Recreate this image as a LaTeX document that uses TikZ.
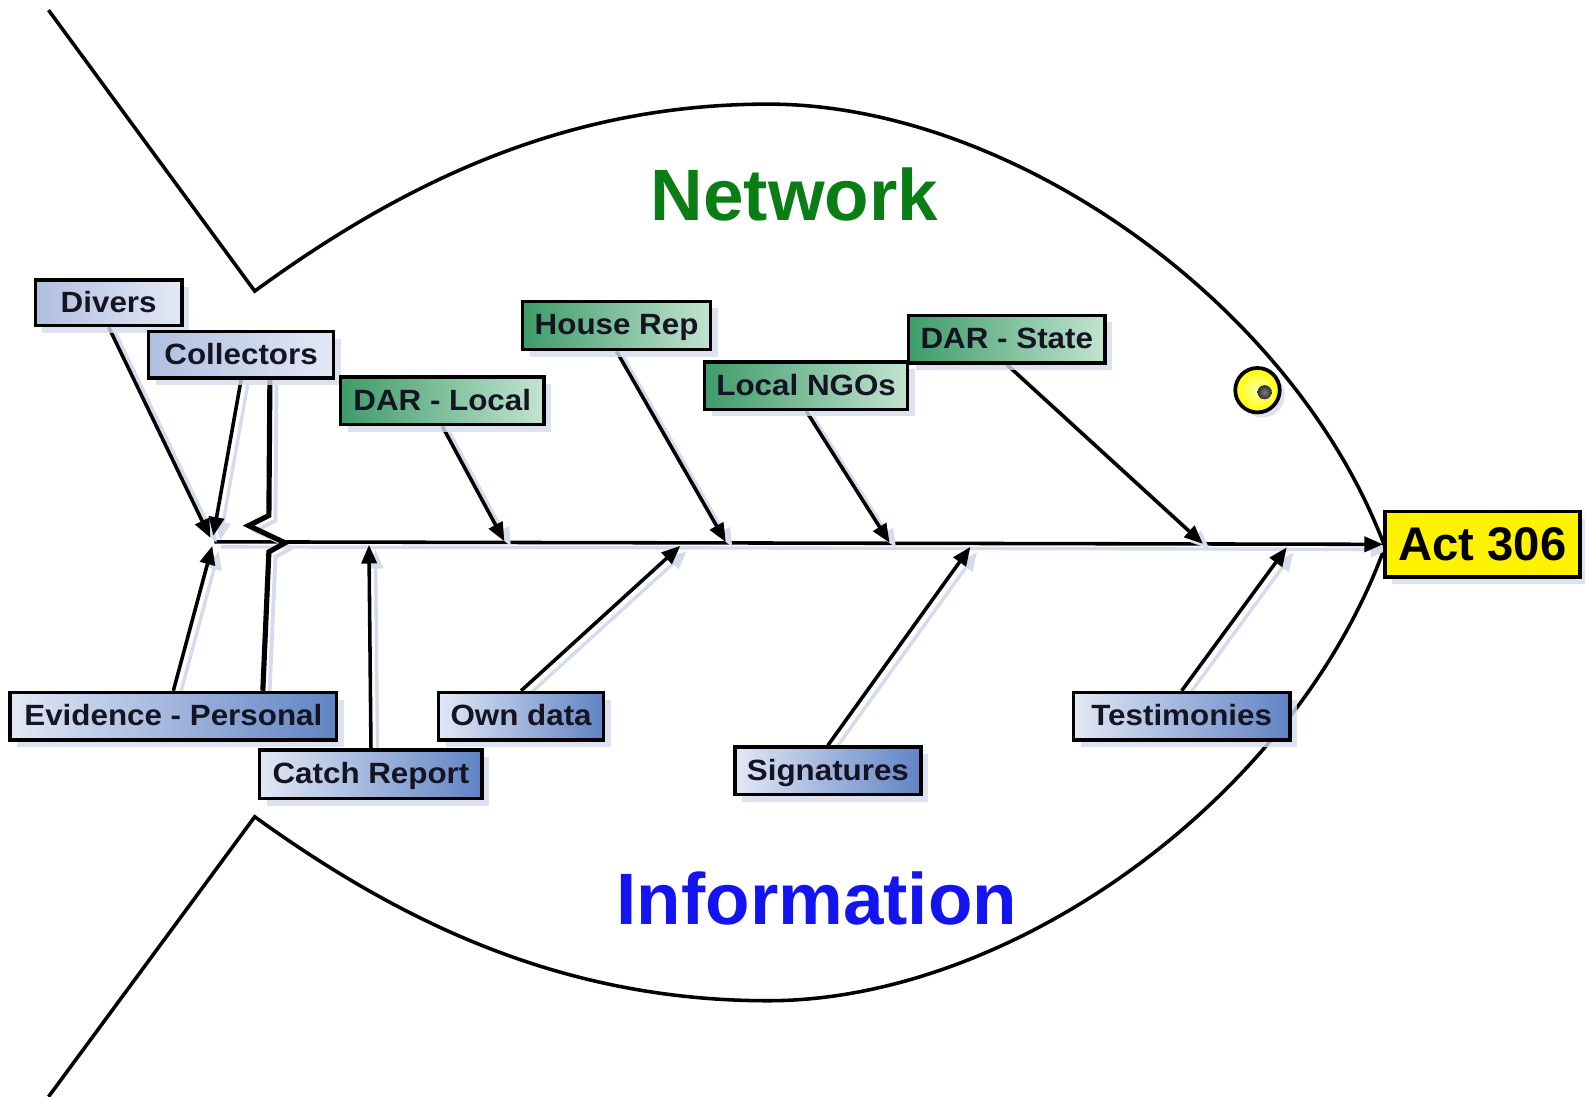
\documentclass[tikz,border=0pt]{standalone}
\usepackage{fontspec}
\setmainfont{Liberation Sans}
\newfontfamily\boxfont{Liberation Sans}[FakeStretch=1.07]
\usetikzlibrary{arrows.meta,shadows,calc}
\definecolor{grnL}{RGB}{62,155,105}
\definecolor{grnR}{RGB}{194,228,208}
\definecolor{bluD}{RGB}{176,191,224}
\definecolor{bluP}{RGB}{226,232,245}
\definecolor{bluR}{RGB}{96,131,196}
\definecolor{shadowc}{RGB}{212,219,236}
\definecolor{txt}{RGB}{20,20,35}
\definecolor{netgreen}{RGB}{10,125,20}
\definecolor{infoblue}{RGB}{20,20,240}
\definecolor{pupilc}{RGB}{45,45,50}
\pgfdeclarelayer{bg}
\pgfsetlayers{bg,main}
\begin{document}
\begin{tikzpicture}[x=0.02cm,y=-0.02cm,
 box/.style={draw=black, line width=1.9pt, inner sep=0pt, text=txt,
   text height=11.9pt, text depth=1.2pt,
   font=\boxfont\bfseries\fontsize{16.5}{18}\selectfont,
   drop shadow={shadow xshift=0.14cm, shadow yshift=-0.14cm, fill=shadowc, opacity=0.8}},
 greenbox/.style={box, left color=grnL, right color=grnR},
 topblue/.style={box, left color=bluD, right color=bluP},
 botblue/.style={box, left color=bluP, right color=bluR},
 arr/.style={line width=2pt, -{Triangle[length=10.5pt,width=8.5pt]},
   preaction={draw=shadowc, line width=1.9pt, transform canvas={shift={(0.13cm,-0.1cm)}}}},
 brk/.style={line width=2.9pt, line join=miter,
   preaction={draw=shadowc, line width=2.2pt, transform canvas={shift={(0.13cm,-0.1cm)}}}},
 fish/.style={line width=2pt, line join=miter},
 title/.style={font=\bfseries\fontsize{41}{45}\selectfont, inner sep=0pt}
]
\useasboundingbox (0,0) rectangle (1568,1085);

% boxes
\node[topblue, minimum width=2.90cm, minimum height=0.90cm] (divers) at (107.5,299.5) {Divers};
\node[topblue, minimum width=3.66cm, minimum height=0.92cm] (collectors) at (238.5,351) {Collectors};
\node[greenbox, minimum width=4.02cm, minimum height=0.94cm] (darlocal) at (437.5,396.5) {DAR - Local};
\node[greenbox, minimum width=3.72cm, minimum height=0.96cm] (houserep) at (610,322) {House Rep};
\node[greenbox, minimum width=4.02cm, minimum height=0.94cm] (ngos) at (797.5,381.5) {Local NGOs};
\node[greenbox, minimum width=3.88cm, minimum height=0.94cm] (darstate) at (996,335.5) {DAR - State};
\node[botblue, minimum width=6.46cm, minimum height=0.94cm] (evidence) at (171.5,708.5) {Evidence - Personal};
\node[botblue, minimum width=4.40cm, minimum height=0.96cm] (catch) at (367,766) {Catch Report};
\node[botblue, minimum width=3.26cm, minimum height=0.94cm] (owndata) at (515.5,708.5) {Own data};
\node[botblue, minimum width=3.68cm, minimum height=0.94cm] (signatures) at (819,762.5) {Signatures};
\node[botblue, minimum width=4.28cm, minimum height=0.94cm] (testimonies) at (1169,708.5) {Testimonies};
\node[draw=black, line width=2.1pt, fill=yellow, inner sep=0pt,
   minimum width=3.86cm, minimum height=1.30cm, text=black,
   text height=19.2pt, text depth=1.5pt,
   font=\bfseries\fontsize{26.6}{30}\selectfont,
   drop shadow={shadow xshift=0.14cm, shadow yshift=-0.14cm, fill=shadowc, opacity=0.8}]
   (act) at (1466.5,538.5) {Act 306};

% eye
\node[circle, draw=black, line width=2.1pt, minimum size=0.88cm, inner sep=0pt,
   inner color={rgb,255:red,255;green,255;blue,170}, outer color=yellow,
   drop shadow={shadow xshift=0.1cm, shadow yshift=-0.1cm, fill=shadowc, opacity=0.8}] (eye) at (1244,386) {};
\node[circle, inner sep=0pt, minimum size=0.28cm, inner color=gray, outer color=pupilc] (pupil) at (1251,388) {};

% titles
\node[title, text=netgreen] (network) at (786,192.5) {Network};
\node[title, text=infoblue] (information) at (808,888.5) {Information};

% spine target points
\coordinate (spS) at (212,536);
\coordinate (tDiv) at (208,532);
\coordinate (tCol) at (211,530);
\coordinate (tEvi) at (210,540);
\coordinate (tDarL) at (499,535.5);
\coordinate (tHouse) at (718,536.2);
\coordinate (tNgo) at (880,536.8);
\coordinate (tDarS) at (1190,538);
\coordinate (tCatch) at (365,539);
\coordinate (tOwn) at (673,540);
\coordinate (tSig) at (960,541);
\coordinate (tTest) at (1273,541.5);

\begin{pgfonlayer}{bg}
% fish outline
\draw[fish] (48,10) -- (252,288) .. controls (400,180) and (560,103) .. (760,103)
   .. controls (1000,103) and (1280,300) .. (1370,541);
\draw[fish] (48,1085) -- (252,808) .. controls (400,915) and (560,990) .. (760,990)
   .. controls (1000,990) and (1280,790) .. (1370,541);
% spine
\draw[arr] (spS) -- (act.west);
% bones
\draw[arr] (divers.south) -- (tDiv);
\draw[arr] (collectors.south) -- (tCol);
\draw[arr] (evidence.north) -- (tEvi);
\draw[brk] ($(collectors.south)+(28.5,0)$) -- (266,510) -- (246,520) -- (282,537) -- (266,546) -- ($(evidence.north)+(88.5,0)$);
\draw[arr] (catch.north) -- (tCatch);
\draw[arr] (darlocal.south) -- (tDarL);
\draw[arr] (houserep.south) -- (tHouse);
\draw[arr] (ngos.south) -- (tNgo);
\draw[arr] (darstate.south) -- (tDarS);
\draw[arr] (owndata.north) -- (tOwn);
\draw[arr] (signatures.north) -- (tSig);
\draw[arr] (testimonies.north) -- (tTest);
\end{pgfonlayer}
\end{tikzpicture}
\end{document}
